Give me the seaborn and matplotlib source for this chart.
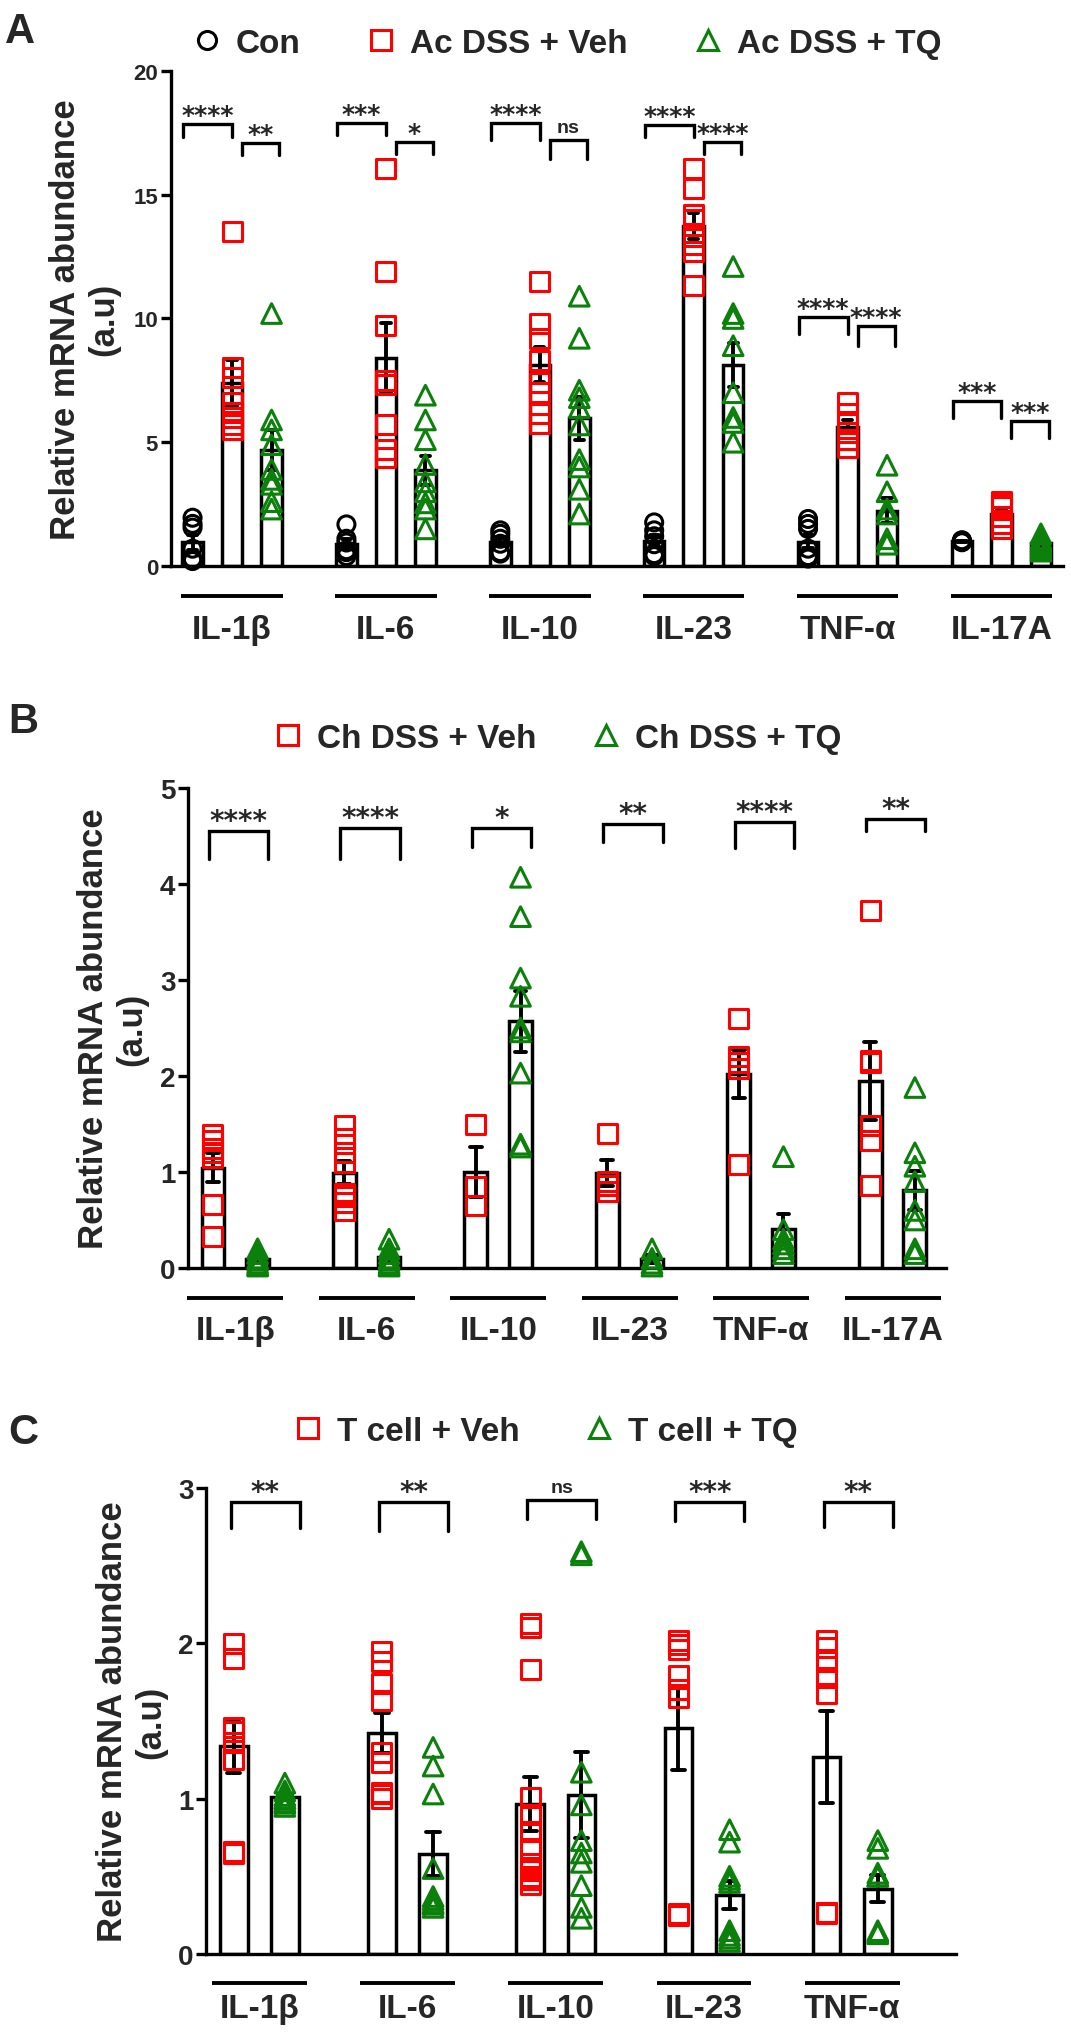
import numpy as np
import pandas as pd
import matplotlib
matplotlib.use("Agg")
import matplotlib.pyplot as plt
import matplotlib.transforms as mtransforms
from matplotlib.lines import Line2D
import seaborn as sns

sns.set_theme(style="white")
plt.rcParams['font.family'] = ['Liberation Sans', 'DejaVu Sans']
plt.rcParams['font.weight'] = 'bold'
plt.rcParams['axes.labelweight'] = 'bold'

RED = '#FF0000'
GREEN = '#0B800B'
BLACK = '#000000'

# ---------------- data ----------------
genes_ab = ["IL-1β", "IL-6", "IL-10", "IL-23", "TNF-α", "IL-17A"]
genes_c = ["IL-1β", "IL-6", "IL-10", "IL-23", "TNF-α"]

groups_a = ["Con", "Ac DSS + Veh", "Ac DSS + TQ"]
groups_b = ["Ch DSS + Veh", "Ch DSS + TQ"]
groups_c = ["T cell + Veh", "T cell + TQ"]

a_con = [
    [1.95, 1.7, 1.55, 0.7, 0.3, 0.25, 0.2],
    [1.68, 1.1, 0.95, 0.64, 0.56, 0.4],
    [1.44, 1.3, 1.1, 0.9, 0.56, 0.5],
    [1.76, 1.44, 1.2, 0.88, 0.48, 0.4],
    [1.9, 1.7, 1.5, 0.7, 0.4, 0.3, 0.35],
    [1.0, 0.98, 1.02, 0.96, 1.04],
]
a_veh = [
    [13.5, 8.0, 7.6, 6.6, 6.2, 6.0, 5.7, 5.5],
    [16.05, 11.9, 9.7, 7.5, 7.35, 5.7, 4.7, 4.4],
    [11.5, 9.8, 9.2, 8.3, 7.4, 7.0, 6.15, 5.75],
    [16.05, 15.25, 14.2, 14.0, 13.3, 13.0, 12.7, 11.35],
    [6.6, 6.15, 5.75, 5.4, 5.1, 4.8],
    [2.6, 2.5, 2.4, 2.0, 1.7, 1.5],
]
a_tq = [
    [10.2, 5.9, 5.5, 4.9, 3.9, 3.5, 3.3, 2.6, 2.3],
    [6.9, 5.9, 5.1, 4.1, 3.4, 3.0, 2.55, 2.3, 1.5],
    [10.9, 9.2, 7.1, 6.8, 6.4, 5.7, 4.3, 4.0, 3.1, 2.1],
    [12.1, 10.2, 10.0, 8.9, 7.0, 6.0, 5.8, 5.0],
    [4.07, 3.0, 2.3, 2.1, 1.1, 0.88],
    [1.3, 1.1, 1.0, 0.9, 0.8, 0.7, 0.6],
]

b_veh = [
    [1.39, 1.33, 1.25, 1.2, 1.15, 0.66, 0.33],
    [1.48, 1.35, 1.2, 1.1, 0.78, 0.75, 0.68, 0.6],
    [1.5, 0.85, 0.65],
    [1.4, 0.86, 0.8, 0.9],
    [2.6, 2.2, 2.14, 2.08, 1.08],
    [3.72, 2.16, 2.14, 1.48, 1.33, 0.86],
]
b_tq = [
    [0.2, 0.15, 0.1, 0.08, 0.05, 0.03, 0.02],
    [0.3, 0.2, 0.15, 0.1, 0.08, 0.05, 0.03, 0.02],
    [4.07, 3.66, 3.02, 2.83, 2.5, 2.46, 2.03, 1.29, 1.26],
    [0.2, 0.1, 0.05, 0.02],
    [1.16, 0.3, 0.25, 0.2, 0.15, 0.4],
    [1.88, 1.2, 1.06, 0.9, 0.6, 0.5, 0.2, 0.15],
]

c_veh = [
    [2.0, 1.9, 1.46, 1.43, 1.36, 1.25, 0.66, 0.65],
    [1.95, 1.88, 1.74, 1.63, 1.3, 1.23, 1.04, 1.03, 1.0],
    [2.13, 2.1, 1.83, 1.01, 0.9, 0.79, 0.68, 0.58, 0.54, 0.48, 0.45, 0.5, 0.55],
    [2.02, 1.99, 1.96, 1.79, 1.7, 1.65, 0.26, 0.25],
    [2.02, 1.97, 1.88, 1.78, 1.68, 0.27, 0.26, 0.27],
]
c_tq = [
    [1.1, 1.05, 1.0, 1.0, 0.98, 0.97, 0.95, 1.02],
    [1.33, 1.21, 1.03, 0.55, 0.37, 0.32, 0.3, 0.33, 0.35],
    [2.59, 2.57, 1.17, 0.96, 0.73, 0.65, 0.59, 0.44, 0.3, 0.23],
    [0.8, 0.72, 0.5, 0.48, 0.46, 0.15, 0.12, 0.1, 0.08],
    [0.73, 0.68, 0.52, 0.5, 0.15, 0.13, 0.5, 0.14],
]

# significance brackets: (gene index, group a, group b, height, leg drop, label)
sig_a = [
    (0, 0, 1, 17.84, 0.51, "****"), (0, 1, 2, 17.1, 0.5, "**"),
    (1, 0, 1, 17.9, 0.5, "***"), (1, 1, 2, 17.14, 0.48, "*"),
    (2, 0, 1, 17.9, 0.7, "****"), (2, 1, 2, 17.2, 0.75, "ns"),
    (3, 0, 1, 17.8, 0.47, "****"), (3, 1, 2, 17.14, 0.48, "****"),
    (4, 0, 1, 10.06, 0.68, "****"), (4, 1, 2, 9.7, 0.8, "****"),
    (5, 0, 1, 6.66, 0.67, "***"), (5, 1, 2, 5.86, 0.67, "***"),
]
sig_b = [
    (0, 0, 1, 4.55, 0.29, "****"), (1, 0, 1, 4.58, 0.32, "****"),
    (2, 0, 1, 4.58, 0.19, "*"), (3, 0, 1, 4.62, 0.18, "**"),
    (4, 0, 1, 4.65, 0.27, "****"), (5, 0, 1, 4.68, 0.13, "**"),
]
sig_c = [
    (0, 0, 1, 2.91, 0.17, "**"), (1, 0, 1, 2.91, 0.19, "**"),
    (2, 0, 1, 2.92, 0.12, "ns"), (3, 0, 1, 2.91, 0.12, "***"),
    (4, 0, 1, 2.91, 0.16, "**"),
]

yticks_a = [0, 5, 10, 15, 20]
yticks_b = [0, 1, 2, 3, 4, 5]
yticks_c = [0, 1, 2, 3]


def long_df(genes, groups, series):
    rows = []
    for g_name, by_gene in zip(groups, series):
        for gene, vals in zip(genes, by_gene):
            for v in vals:
                rows.append((gene, g_name, v))
    return pd.DataFrame(rows, columns=["gene", "group", "value"])


def draw_panel(ax, genes, groups, series, colors, markers, sizes, width, gap,
               ylim, yticks, tick_fs, sigs, br_off, star_fs, xlim, line_hw,
               line_y, lab_y, ylab_x):
    df = long_df(genes, groups, series)
    n = len(groups)
    sns.barplot(data=df, x="gene", y="value", hue="group", order=genes,
                hue_order=groups, palette={g: "white" for g in groups},
                saturation=1, edgecolor="black", linewidth=2.5, width=width,
                gap=gap, errorbar="se", capsize=0.18,
                err_kws={"color": "black", "linewidth": 2.8},
                legend=False, ax=ax)
    gene_idx = {g: i for i, g in enumerate(genes)}

    def pos(i, j):
        return i + (j + 0.5) * width / n - width / 2

    for j, (g, c, m, s) in enumerate(zip(groups, colors, markers, sizes)):
        sub = df[df.group == g].copy()
        sub["pos"] = sub.gene.map(gene_idx) + (j + 0.5) * width / n - width / 2
        sns.scatterplot(data=sub, x="pos", y="value", marker=m, s=s, color=c,
                        legend=False, ax=ax, zorder=5, clip_on=False)
        coll = ax.collections[-1]
        coll.set_facecolor("none")
        coll.set_edgecolor(c)
        coll.set_linewidth(2.2)

    # significance brackets
    for (i, a, b, y, drop, label) in sigs:
        off = br_off[(a, b)]
        x1 = pos(i, a) + off[0]
        x2 = pos(i, b) + off[1]
        ax.plot([x1, x1, x2, x2], [y - drop, y, y, y - drop], color="black",
                lw=2.4, clip_on=False, solid_joinstyle="miter", zorder=6)
        if label == "ns":
            ax.annotate(label, xy=((x1 + x2) / 2, y), xytext=(0, 6),
                        textcoords="offset points", ha="center", va="baseline",
                        fontsize=14, fontweight="bold")
        else:
            ax.annotate(label, xy=((x1 + x2) / 2, y), xytext=(0, 1.5),
                        textcoords="offset points", ha="center", va="baseline",
                        fontsize=star_fs, fontweight="bold", family="DejaVu Sans")

    # group lines and labels below the axis
    trans = mtransforms.blended_transform_factory(ax.transData, ax.transAxes)
    for i, gene in enumerate(genes):
        ax.plot([i - line_hw, i + line_hw], [line_y, line_y], transform=trans,
                color="black", lw=2.8, clip_on=False, solid_capstyle="butt")
        ax.text(i, lab_y, gene, transform=trans, ha="center", va="center",
                fontsize=24, fontweight="bold")

    ax.set_xlim(*xlim)
    ax.set_ylim(*ylim)
    ax.set_yticks(yticks)
    ax.set_yticklabels([str(t) for t in yticks])
    ax.set_xticks([])
    ax.set_xlabel("")
    ax.set_ylabel("Relative mRNA abundance\n(a.u)", fontsize=25,
                  fontweight="bold", linespacing=1.2)
    ax.yaxis.set_label_coords(ylab_x, 0.5)
    for sp in ["top", "right"]:
        ax.spines[sp].set_visible(False)
    for sp in ["left", "bottom"]:
        ax.spines[sp].set_color("black")
        ax.spines[sp].set_linewidth(2.4)
    ax.tick_params(axis="y", left=True, length=7, width=2.4, color="black",
                   labelsize=tick_fs, pad=2)
    for t in ax.get_yticklabels():
        t.set_fontweight("bold")


fig = plt.figure(figsize=(10.71, 20.40), dpi=100)

axA = fig.add_axes([0.1592, 0.72206, 0.8333, 0.24265])
axB = fig.add_axes([0.1755, 0.37794, 0.7082, 0.23529])
axC = fig.add_axes([0.1923, 0.04167, 0.7003, 0.22843])

draw_panel(axA, genes_ab, groups_a, [a_con, a_veh, a_tq],
           [BLACK, RED, GREEN], ["o", "s", "^"], [150, 187, 200],
           width=0.77, gap=0.48, ylim=(0, 20), yticks=yticks_a, tick_fs=16,
           sigs=sig_a, br_off={(0, 1): (-0.06, 0.0), (1, 2): (0.065, 0.05)},
           star_fs=18, xlim=(-0.40, 5.40), line_hw=0.33,
           line_y=-0.0606, lab_y=-0.129, ylab_x=-0.0566)
draw_panel(axB, genes_ab, groups_b, [b_veh, b_tq],
           [RED, GREEN], ["s", "^"], [187, 200],
           width=0.68, gap=0.49, ylim=(0, 5), yticks=yticks_b, tick_fs=20,
           sigs=sig_b, br_off={(0, 1): (-0.03, 0.08)}, star_fs=20,
           xlim=(-0.36, 5.41), line_hw=0.365,
           line_y=-0.0625, lab_y=-0.131, ylab_x=-0.0527)
draw_panel(axC, genes_c, groups_c, [c_veh, c_tq],
           [RED, GREEN], ["s", "^"], [187, 200],
           width=0.69, gap=0.46, ylim=(0, 3), yticks=yticks_c, tick_fs=20,
           sigs=sig_c, br_off={(0, 1): (-0.02, 0.10)}, star_fs=20,
           xlim=(-0.36, 4.70), line_hw=0.32,
           line_y=-0.0622, lab_y=-0.118, ylab_x=-0.052)

# legends
def legend_handles(colors, markers, msizes):
    return [Line2D([], [], marker=m, linestyle="none", markerfacecolor="none",
                   markeredgecolor=c, markeredgewidth=2.2, markersize=ms)
            for c, m, ms in zip(colors, markers, msizes)]

leg_kw = dict(loc="center left", frameon=False, handlelength=0.8,
              handletextpad=0.47, borderpad=0, borderaxespad=0,
              prop={"size": 24, "weight": "bold"})
fig.legend(legend_handles([BLACK, RED, GREEN], ["o", "s", "^"], [13, 14, 15]),
           groups_a, bbox_to_anchor=(0.1809, 0.9784), ncol=3, columnspacing=2.0,
           **leg_kw)
fig.legend(legend_handles([RED, GREEN], ["s", "^"], [14, 15]),
           groups_b, bbox_to_anchor=(0.2565, 0.6377), ncol=2, columnspacing=1.67,
           **leg_kw)
fig.legend(legend_handles([RED, GREEN], ["s", "^"], [14, 15]),
           groups_c, bbox_to_anchor=(0.2752, 0.298), ncol=2, columnspacing=1.97,
           **leg_kw)

# panel letters
fig.text(5 / 1071, 1 - 12 / 2040, "A", fontsize=30, fontweight="bold", va="top", ha="left")
fig.text(8 / 1071, 1 - 702 / 2040, "B", fontsize=30, fontweight="bold", va="top", ha="left")
fig.text(8 / 1071, 1 - 1413 / 2040, "C", fontsize=30, fontweight="bold", va="top", ha="left")

fig.savefig("out.png", dpi=100, facecolor="white")
